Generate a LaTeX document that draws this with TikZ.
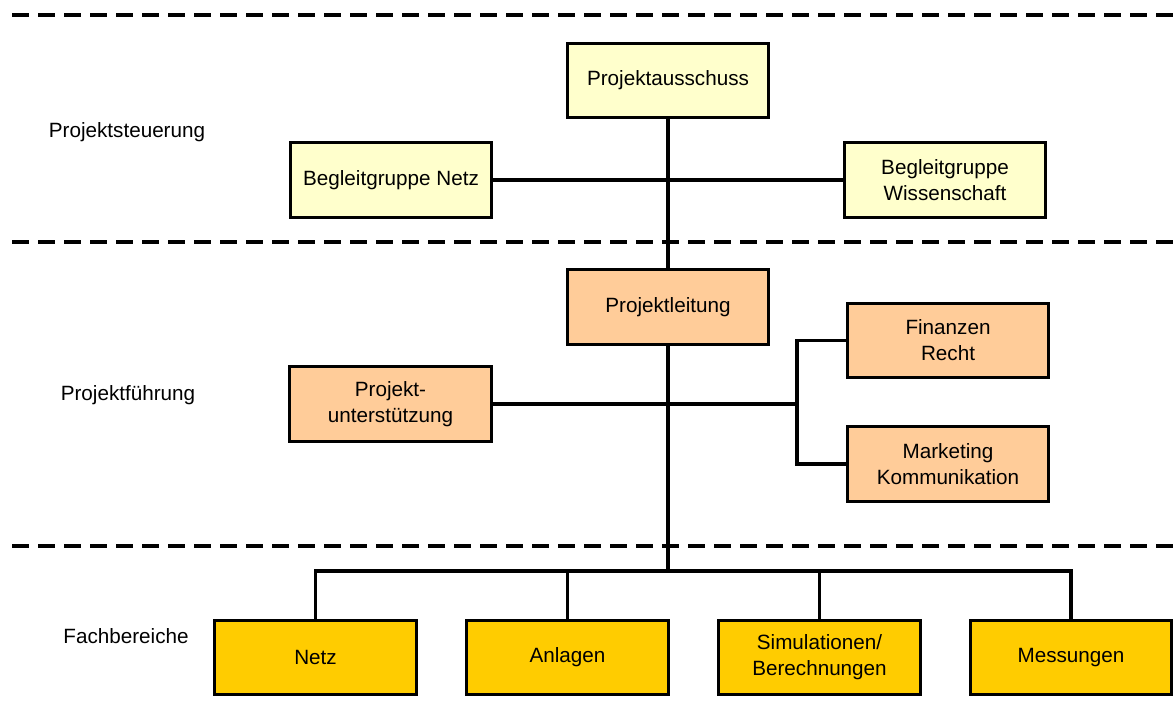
\documentclass[tikz,border=0pt]{standalone}
\usepackage{fontspec}
\setmainfont{Liberation Sans}
\usepackage{tikz}
\usetikzlibrary{positioning,shadows,calc}
\definecolor{orgSteer}{HTML}{FFFFCC}
\definecolor{orgLead}{HTML}{FFCC99}
\definecolor{orgDept}{HTML}{FFCC00}
\definecolor{orgShadow}{HTML}{A0A0A0}
\tikzset{
  orgbox/.style={draw=black,line width=2.3pt,fill=orgSteer,align=center,
                 minimum width=151pt,minimum height=56pt,inner sep=2pt,
                 font=\fontsize{15.5}{19.5}\selectfont,
                 drop shadow={shadow xshift=1.2pt,shadow yshift=-1.2pt,fill=orgShadow,opacity=1}},
  orglead/.style={orgbox,fill=orgLead},
  orgdept/.style={orgbox,fill=orgDept},
  orglink/.style={draw=black,line width=2.6pt},
  orgsep/.style={draw=black,line width=2.8pt,dash pattern=on 12.75pt off 6.75pt},
  orglbl/.style={font=\fontsize{15.5}{19.5}\selectfont,inner sep=0pt},
}
\begin{document}
\begin{tikzpicture}[x=0.75pt,y=-0.75pt]
  \useasboundingbox (0,0) rectangle (1173,717);

  % Level separators.
  \draw[orgsep] (12,15) -- (1173,15);
  \draw[orgsep] (12,242) -- (1173,242);
  \draw[orgsep] (12,546) -- (1173,546);

  % Level labels.
  \node[orglbl] (Lsteer) at (127,132) {Projektsteuerung};
  \node[orglbl] (Llead)  at (128,395) {Projektführung};
  \node[orglbl] (Ldept)  at (126,636) {Fachbereiche};

  % Steering.
  \node[orgbox] (PA)  at (668,80.5)  {Projektausschuss};
  \node[orgbox] (BGN) at (391,180)   {Begleitgruppe Netz};
  \node[orgbox] (BGW) at (945,180)   {Begleitgruppe\\Wissenschaft};

  % Management.
  \node[orglead] (PL) at (668,307)   {Projektleitung};
  \node[orglead] (FR) at (948,340.5) {Finanzen\\Recht};
  \node[orglead] (PU) at (390.5,404) {Projekt-\\unterstützung};
  \node[orglead] (MK) at (948,464)   {Marketing\\Kommunikation};

  % Departments.
  \node[orgdept] (Netz) at (315.5,657.5) {Netz};
  \node[orgdept] (Anl)  at (567.5,657.5) {Anlagen};
  \node[orgdept] (Sim)  at (819.5,657.5) {Simulationen/\\Berechnungen};
  \node[orgdept] (Mess) at (1071,657.5)  {Messungen};

  % Spine and branches.
  \coordinate (bus) at (668,571);
  \coordinate (fork) at (797,404);
  \draw[orglink] (PA.south) -- (PL.north);
  \draw[orglink] (PL.south) -- (bus);
  \draw[orglink] (BGN.east) -- (BGW.west);
  \draw[orglink] (PU.east) -- (fork);
  \draw[orglink] (FR.west) -| (fork) |- (MK.west);
  \draw[orglink] (Netz.north) |- (bus) -| (Mess.north);
  \draw[orglink] (Anl.north) -- (Anl.north |- bus);
  \draw[orglink] (Sim.north) -- (Sim.north |- bus);
\end{tikzpicture}
\end{document}
